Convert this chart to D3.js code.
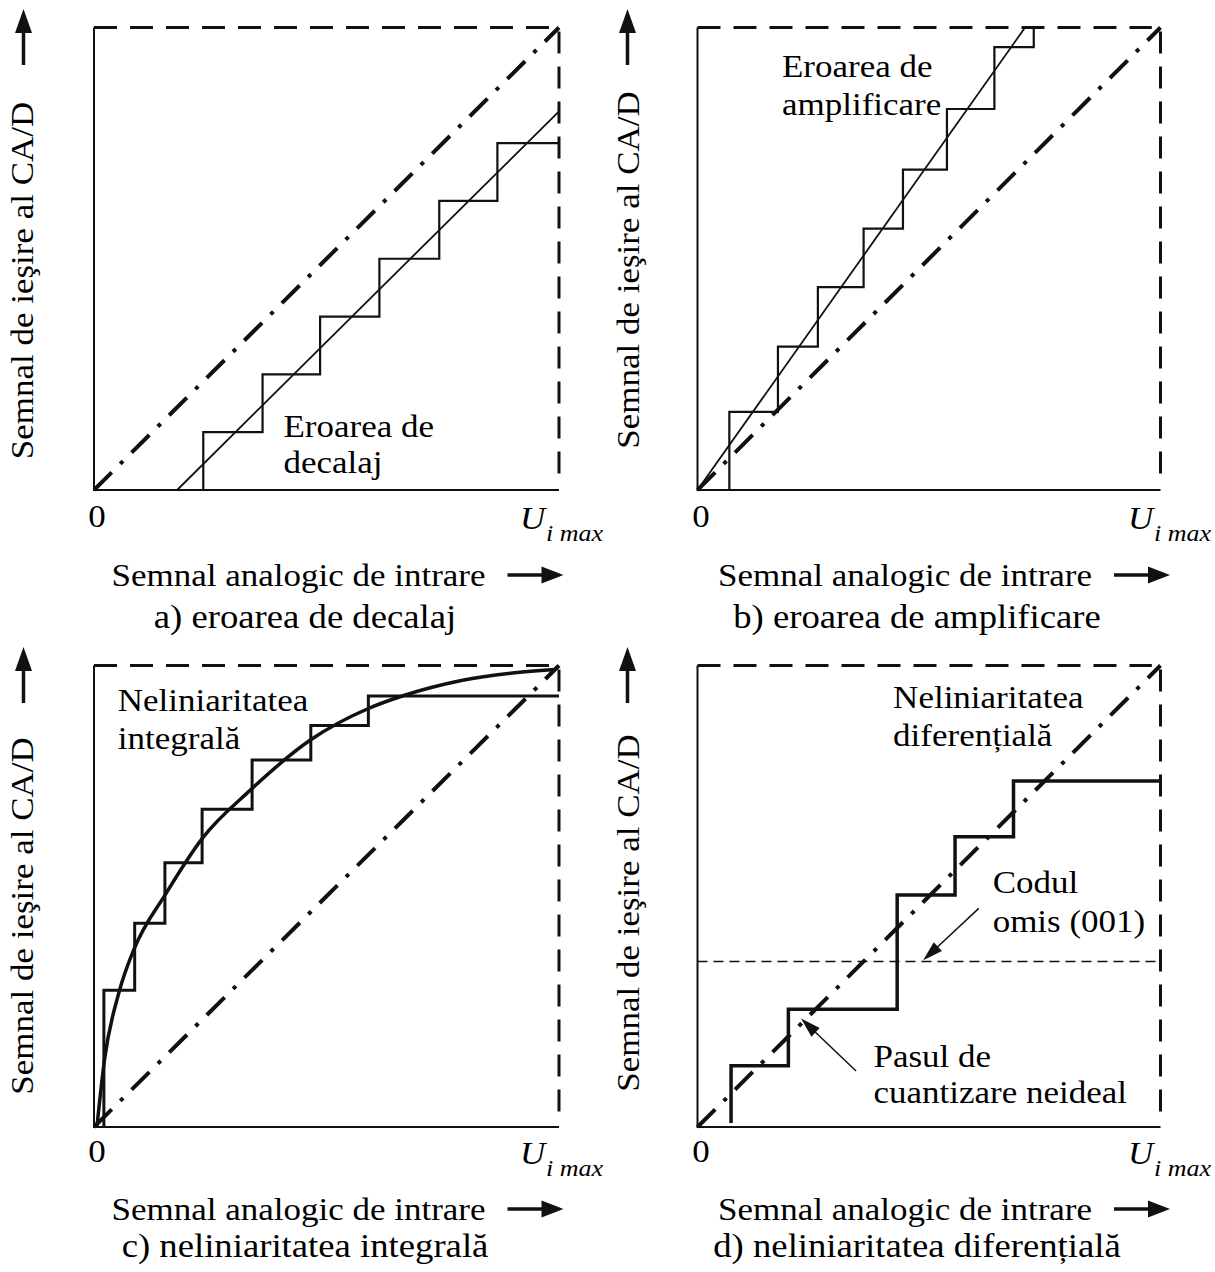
<!DOCTYPE html>
<html>
<head>
<meta charset="utf-8">
<script src="https://cdn.jsdelivr.net/npm/d3@7"></script>
<style>
body { margin: 0; background: #fff; }
text { font-family: "Liberation Serif", "Times New Roman", serif; fill: #000; }
</style>
</head>
<body>
<div id="chart"></div>
<script>
// all values in LSB units, 0..8 on both axes
var DOMAIN = [0, 8];
var idealLine = [[0, 0], [8, 8]];

// a) eroarea de decalaj
var decalajRise = [1.88, 2.90, 3.89, 4.91, 5.94, 6.94];
var decalajLevel = [1, 2, 3, 4, 5, 6];
var decalajFit = [[1.43, 0], [8, 6.55]];

// b) eroarea de amplificare
var amplRise = [0.55, 1.39, 2.08, 2.87, 3.55, 4.31, 5.13, 5.81];
var amplLevel = [1.35, 2.48, 3.51, 4.52, 5.54, 6.59, 7.66, 8];
var amplFit = [[0, 0], [5.66, 8]];

// c) neliniaritatea integrala
var intRise = [0.17, 0.70, 1.22, 1.86, 2.72, 3.73, 4.72];
var intLevel = [2.37, 3.53, 4.58, 5.51, 6.36, 6.96, 7.47];
var intCurveX = [0.05, 0.18, 0.44, 0.68, 1.24, 1.86, 2.69, 3.71, 4.71, 5.33, 6.32, 7.94];
var intCurveY = [0, 1.16, 2.37, 3.06, 4.05, 5.0, 5.84, 6.70, 7.25, 7.48, 7.74, 7.93];

// d) neliniaritatea diferentiala
var difRise = [0.58, 1.57, 3.45, 4.45, 5.46];
var difLevel = [1.06, 2.04, 4.02, 5.03, 6.0];
var difStart = 0.07;
var missingCode = 2.87;

var yTitle = "Semnal de ieşire al CA/D";
var xTitle = "Semnal analogic de intrare";

var W = 1215, H = 1272;

var cols = [
    {x0: 94, w: 465, yLabelX: 33, arrowX: 23.5, zeroX: 97, uX: 520, xLabelX: 111.5, titleX: 305},
    {x0: 697.5, w: 463, yLabelX: 639, arrowX: 627.5, zeroX: 701, uX: 1128, xLabelX: 718, titleX: 917}
];
var rows = [
    {y0: 27.5, h: 462.5, arrowTop: 9, zeroY: 527, uY: 529, xLabelY: 586, titleY: 628},
    {y0: 665.5, h: 461.5, arrowTop: 647, zeroY: 1162, uY: 1164, xLabelY: 1220, titleY: 1257}
];

var svg = d3.select("#chart").append("svg")
    .attr("width", W)
    .attr("height", H);
svg.append("rect").attr("width", W).attr("height", H).attr("fill", "#fff");

function label(g, x, y, str, o) {
    o = o || {};
    return g.append("text")
        .attr("transform", "translate(" + x + "," + y + ")" + (o.rotate ? " rotate(" + o.rotate + ")" : "") + " scale(1,0.9)")
        .attr("text-anchor", o.anchor || "start")
        .style("font-size", (o.size || 35) + "px")
        .style("font-style", o.italic ? "italic" : null)
        .text(str);
}

function stairs(rise, level, startY, endX) {
    var pts = [[rise[0], startY]];
    for (var i = 0; i < level.length; i++) {
        pts.push([i + 1 < rise.length ? rise[i + 1] : endX, level[i]]);
    }
    return pts;
}

// filled-head arrow from p to q (pixels)
function arrow(g, p, q, o) {
    var dx = q[0] - p[0], dy = q[1] - p[1];
    var len = Math.sqrt(dx * dx + dy * dy);
    var ux = dx / len, uy = dy / len;
    var hl = o.head, hw = o.half;
    var bx = q[0] - ux * hl, by = q[1] - uy * hl;
    g.append("line")
        .attr("x1", p[0]).attr("y1", p[1])
        .attr("x2", bx + ux * 2).attr("y2", by + uy * 2)
        .attr("stroke", "#111").attr("stroke-width", o.width);
    g.append("path")
        .attr("d", "M" + q[0] + "," + q[1] +
            "L" + (bx - uy * hw) + "," + (by + ux * hw) +
            "L" + (bx + uy * hw) + "," + (by - ux * hw) + "Z")
        .attr("fill", "#111");
}

var panels = [
    {col: 0, row: 0, yLabelCY: 280.5, title: "a) eroarea de decalaj",
        draw: function(g, x, y, line, step) {
            g.append("path").attr("d", step(stairs(decalajRise, decalajLevel, 0, 8)))
                .attr("fill", "none").attr("stroke", "#111").attr("stroke-width", 2.2);
            g.append("path").attr("d", line(decalajFit))
                .attr("fill", "none").attr("stroke", "#111").attr("stroke-width", 1.8);
        },
        notes: [{t: "Eroarea de", x: 3.26, y: 0.92}, {t: "decalaj", x: 3.26, y: 0.29}]
    },
    {col: 1, row: 0, yLabelCY: 270, title: "b) eroarea de amplificare",
        draw: function(g, x, y, line, step) {
            g.append("path")
                .attr("d", step(stairs(amplRise, amplLevel, 0, amplRise[amplRise.length - 1])))
                .attr("fill", "none").attr("stroke", "#111").attr("stroke-width", 2.2);
            g.append("path").attr("d", line(amplFit))
                .attr("fill", "none").attr("stroke", "#111").attr("stroke-width", 1.8);
        },
        notes: [{t: "Eroarea de", x: 1.46, y: 7.15}, {t: "amplificare", x: 1.46, y: 6.49}]
    },
    {col: 0, row: 1, yLabelCY: 916, title: "c) neliniaritatea integrală",
        draw: function(g, x, y, line, step) {
            g.append("path")
                .attr("d", step(stairs(intRise, intLevel, 0, 8)))
                .attr("fill", "none").attr("stroke", "#111").attr("stroke-width", 3);
            var pts = intCurveX.map(function(v, i) { return [v, intCurveY[i]]; });
            g.append("path")
                .attr("d", line.curve(d3.curveMonotoneX)(pts))
                .attr("fill", "none").attr("stroke", "#111").attr("stroke-width", 3.5);
            line.curve(d3.curveLinear);
        },
        notes: [{t: "Neliniaritatea", x: 0.41, y: 7.21}, {t: "integrală", x: 0.41, y: 6.56}]
    },
    {col: 1, row: 1, yLabelCY: 913, title: "d) neliniaritatea diferențială",
        draw: function(g, x, y, line, step) {
            g.append("line")
                .attr("x1", x(0)).attr("x2", x(8))
                .attr("y1", y(missingCode)).attr("y2", y(missingCode))
                .attr("stroke", "#111").attr("stroke-width", 1.5)
                .attr("stroke-dasharray", "10,6");
            g.append("path")
                .attr("d", step(stairs(difRise, difLevel, difStart, 8)))
                .attr("fill", "none").attr("stroke", "#111").attr("stroke-width", 3.5);
            arrow(g, [x(4.86), y(3.79)], [x(3.9), y(2.89)], {head: 20, half: 6, width: 1.5});
            arrow(g, [x(2.74), y(0.97)], [x(1.79), y(1.88)], {head: 20, half: 6, width: 1.5});
        },
        notes: [
            {t: "Neliniaritatea", x: 3.38, y: 7.27}, {t: "diferențială", x: 3.38, y: 6.61},
            {t: "Codul", x: 5.10, y: 4.05}, {t: "omis (001)", x: 5.10, y: 3.38},
            {t: "Pasul de", x: 3.04, y: 1.04}, {t: "cuantizare neideal", x: 3.04, y: 0.41}
        ]
    }
];

panels.forEach(function(p) {
    var c = cols[p.col], r = rows[p.row];
    var g = svg.append("g");
    var x = d3.scaleLinear().domain(DOMAIN).range([c.x0, c.x0 + c.w]);
    var y = d3.scaleLinear().domain(DOMAIN).range([r.y0 + r.h, r.y0]);
    var line = d3.line().x(function(d) { return x(d[0]); }).y(function(d) { return y(d[1]); });
    var step = d3.line().x(function(d) { return x(d[0]); }).y(function(d) { return y(d[1]); })
        .curve(d3.curveStepBefore);

    // frame: solid left/bottom, dashed top/right
    g.append("path").attr("d", line([[0, 8], [0, 0], [8, 0]]))
        .attr("fill", "none").attr("stroke", "#111").attr("stroke-width", 2);
    g.append("path").attr("d", line([[0, 8], [7.85, 8]]))
        .attr("fill", "none").attr("stroke", "#111").attr("stroke-width", 3)
        .attr("stroke-dasharray", "23,13");
    g.append("line")
        .attr("x1", x(8)).attr("x2", x(8))
        .attr("y1", y(8) + 4).attr("y2", y(0) - 4)
        .attr("stroke", "#111").attr("stroke-width", 3)
        .attr("stroke-dasharray", "22,13");

    // ideal transfer characteristic
    g.append("path").attr("d", line(idealLine))
        .attr("fill", "none").attr("stroke", "#111").attr("stroke-width", 4)
        .attr("stroke-dasharray", "25,12,4,12");

    p.draw(g, x, y, line, step);

    p.notes.forEach(function(n) {
        label(g, x(n.x), y(n.y), n.t);
    });

    // axis labels
    label(g, c.zeroX, r.zeroY, "0", {anchor: "middle"});
    label(g, c.uX, r.uY, "U", {italic: true});
    label(g, c.uX + 26, r.uY + 12, "i max", {italic: true, size: 26});

    var xl = label(g, c.xLabelX, r.xLabelY, xTitle);
    var xEnd = c.xLabelX + xl.node().getComputedTextLength();
    arrow(g, [xEnd + 22, r.xLabelY - 11], [xEnd + 78, r.xLabelY - 11], {head: 22, half: 8.5, width: 3.5});

    label(g, c.titleX, r.titleY, p.title, {anchor: "middle", size: 36.7});

    label(g, c.yLabelX, p.yLabelCY, yTitle, {anchor: "middle", rotate: -90});
    arrow(g, [c.arrowX, r.arrowTop + 56], [c.arrowX, r.arrowTop], {head: 24, half: 8.5, width: 3.5});
});
</script>
</body>
</html>
